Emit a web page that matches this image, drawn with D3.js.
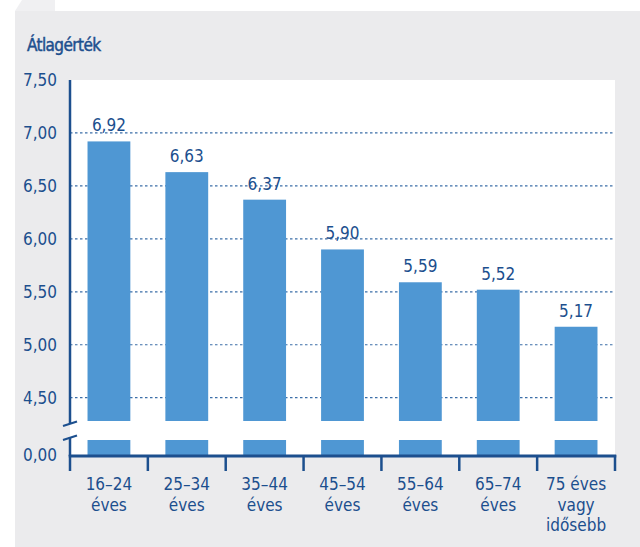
<!DOCTYPE html>
<html>
<head>
<meta charset="utf-8">
<script src="https://cdnjs.cloudflare.com/ajax/libs/d3/7.8.5/d3.min.js"></script>
<style>
  html, body { margin: 0; padding: 0; background: #ffffff; }
  svg { display: block; }
  text { font-family: "Liberation Sans Narrow", "DejaVu Sans Condensed", "Roboto", sans-serif; fill: #1c4f8e; }
</style>
</head>
<body>
<svg id="chart" width="640" height="547"></svg>
<script>
// Age groups (each may wrap onto several lines)
const categories = [
  ["16–24", "éves"],
  ["25–34", "éves"],
  ["35–44", "éves"],
  ["45–54", "éves"],
  ["55–64", "éves"],
  ["65–74", "éves"],
  ["75 éves", "vagy", "idősebb"]
];
// Average score per age group
const values = [6.92, 6.63, 6.37, 5.90, 5.59, 5.52, 5.17];
const valueLabels = ["6,92", "6,63", "6,37", "5,90", "5,59", "5,52", "5,17"];
// Tick values for the broken y axis
const upperTicks = [4.5, 5.0, 5.5, 6.0, 6.5, 7.0, 7.5];
const lowerTicks = [0];
const tickLabels = { "0": "0,00", "4.5": "4,50", "5": "5,00", "5.5": "5,50", "6": "6,00", "6.5": "6,50", "7": "7,00", "7.5": "7,50" };
// Axis break: upper segment starts here, lower segment stops here
const upperMin = 4.28;
const lowerMax = 0.14;
const yTitle = "Átlagérték";

const ink = "#1c4f8e";
const barColor = "#4f97d3";
const svg = d3.select("#chart");

// Grey panel with the small tab at its top-left
svg.append("path")
  .attr("d", "M15,11 L22,0 L55,0 L55,11 Z")
  .attr("fill", "#f0f0f2");
svg.append("rect")
  .attr("x", 15).attr("y", 11).attr("width", 625).attr("height", 536)
  .attr("fill", "#ebebed");

const plotL = 70, plotR = 615, plotT = 80, plotB = 455;

const x = d3.scaleBand()
  .domain(d3.range(categories.length))
  .range([plotL, plotR])
  .paddingInner(0.45)
  .paddingOuter(0.225);

const yUp = d3.scaleLinear().domain([upperMin, 7.5]).range([421, plotT]);
const yLow = d3.scaleLinear().domain([0, lowerMax]).range([plotB, 440]);

// White plotting area
svg.append("rect")
  .attr("x", plotL).attr("y", plotT)
  .attr("width", plotR - plotL).attr("height", plotB - plotT)
  .attr("fill", "#ffffff");

// Dotted gridlines
svg.append("g")
  .selectAll("line")
  .data(upperTicks.filter(t => t < 7.5))
  .join("line")
  .attr("x1", plotL).attr("x2", plotR)
  .attr("y1", d => yUp(d)).attr("y2", d => yUp(d))
  .attr("stroke", "#3b6ea8")
  .attr("stroke-width", 1.2)
  .attr("stroke-dasharray", "2.5,2.5");

// Bars: upper segment and lower stub
const bars = svg.append("g");
bars.selectAll("rect.up")
  .data(values)
  .join("rect")
  .attr("class", "up")
  .attr("x", (d, i) => x(i))
  .attr("width", x.bandwidth())
  .attr("y", d => yUp(d))
  .attr("height", d => yUp(upperMin) - yUp(d))
  .attr("fill", barColor);
bars.selectAll("rect.low")
  .data(values)
  .join("rect")
  .attr("class", "low")
  .attr("x", (d, i) => x(i))
  .attr("width", x.bandwidth())
  .attr("y", d => yLow(Math.min(d, lowerMax)))
  .attr("height", d => yLow(0) - yLow(Math.min(d, lowerMax)))
  .attr("fill", barColor);

// Value labels
svg.append("g")
  .selectAll("text")
  .data(values)
  .join("text")
  .attr("x", (d, i) => x(i) + x.bandwidth() / 2)
  .attr("y", d => yUp(d) - 10)
  .attr("text-anchor", "middle")
  .attr("font-size", 17)
  .text((d, i) => valueLabels[i]);

// Y axis line with break marks
const axisG = svg.append("g").attr("stroke", ink).attr("fill", "none");
axisG.append("line")
  .attr("x1", plotL).attr("x2", plotL)
  .attr("y1", plotT).attr("y2", 424)
  .attr("stroke-width", 2.5);
axisG.append("line")
  .attr("x1", plotL).attr("x2", plotL)
  .attr("y1", 437).attr("y2", plotB + 1)
  .attr("stroke-width", 2.5);
axisG.append("line")
  .attr("x1", 63).attr("y1", 426).attr("x2", 77).attr("y2", 421.5)
  .attr("stroke-width", 2.2);
axisG.append("line")
  .attr("x1", 63).attr("y1", 440).attr("x2", 77).attr("y2", 435.5)
  .attr("stroke-width", 2.2);

// Y tick labels
const tickG = svg.append("g").attr("font-size", 17).attr("text-anchor", "end");
tickG.selectAll("text.up")
  .data(upperTicks)
  .join("text")
  .attr("class", "up")
  .attr("x", 57)
  .attr("y", d => yUp(d))
  .attr("dy", "0.35em")
  .text(d => tickLabels[String(d)]);
tickG.selectAll("text.low")
  .data(lowerTicks)
  .join("text")
  .attr("class", "low")
  .attr("x", 57)
  .attr("y", d => yLow(d))
  .attr("dy", "0.35em")
  .text(d => tickLabels[String(d)]);

// X axis baseline and ticks at band boundaries
const boundaries = d3.range(categories.length + 1).map(i => plotL + i * (plotR - plotL) / categories.length);
axisG.append("line")
  .attr("x1", plotL - 1.25).attr("x2", plotR + 1.25)
  .attr("y1", plotB + 1).attr("y2", plotB + 1)
  .attr("stroke-width", 3);
axisG.selectAll("line.tick")
  .data(boundaries)
  .join("line")
  .attr("class", "tick")
  .attr("x1", d => d).attr("x2", d => d)
  .attr("y1", plotB).attr("y2", 471)
  .attr("stroke-width", 2.5);

// Category labels
svg.append("g")
  .selectAll("text")
  .data(categories)
  .join("text")
  .attr("x", (d, i) => x(i) + x.bandwidth() / 2)
  .attr("y", 490)
  .attr("text-anchor", "middle")
  .attr("font-size", 17)
  .selectAll("tspan")
  .data((d, i) => d.map(t => ({ t, cx: x(i) + x.bandwidth() / 2 })))
  .join("tspan")
  .attr("x", d => d.cx)
  .attr("dy", (d, j) => j === 0 ? 0 : 20.5)
  .text(d => d.t);

// Axis title (semi-bold, tightly set)
svg.append("text")
  .attr("x", 27).attr("y", 51)
  .attr("font-size", 17)
  .attr("letter-spacing", "-0.6")
  .style("stroke", ink)
  .style("stroke-width", 0.45)
  .text(yTitle);
</script>
</body>
</html>
